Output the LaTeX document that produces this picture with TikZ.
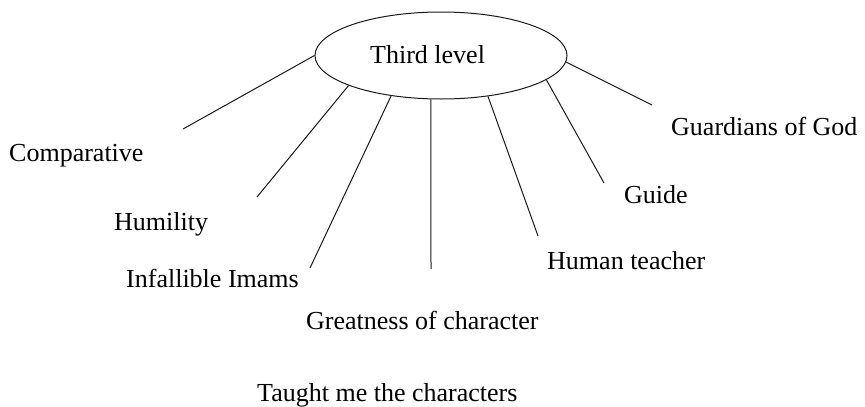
\documentclass[tikz,border=0pt]{standalone}
\usepackage{fontspec}
\setmainfont{Liberation Serif}
\usetikzlibrary{shapes.geometric}
\begin{document}
\begin{tikzpicture}[x=1pt,y=-1pt,
  lbl/.style={font=\fontsize{26}{30}\selectfont, inner sep=0pt, anchor=base west},
  conn/.style={line width=1pt, draw=black!90},
  hub/.style={draw=black!90, ellipse, line width=1pt, minimum width=252pt, minimum height=87pt, inner sep=0pt}]
\useasboundingbox (0,0) rectangle (865,407);
\node[hub] (e) at (441,55.5) {};
\node[lbl] (tl) at (370,63) {Third level};
\node[lbl] (guard) at (671,135) {Guardians of God};
\node[lbl] (comp) at (9,161) {Comparative};
\node[lbl] (guide) at (624,203) {Guide};
\node[lbl] (hum) at (114,230) {Humility};
\node[lbl] (human) at (547,269) {Human teacher};
\node[lbl] (imams) at (126,287) {Infallible Imams};
\node[lbl] (great) at (306,329) {Greatness of character};
\node[lbl] (taught) at (257,401) {Taught me the characters};
\coordinate (c1) at (183,129);
\coordinate (c2) at (257,197);
\coordinate (c3) at (310,268);
\coordinate (c4) at (431,269);
\coordinate (c5) at (538,236);
\coordinate (c6) at (604,183);
\coordinate (c7) at (652,105);
\draw[conn] (e.180) -- (c1);
\draw[conn] (e.198.9) -- (c2);
\draw[conn] (e.219.6) -- (c3);
\draw[conn] (e.257) -- (c4);
\draw[conn] (e.319.3) -- (c5);
\draw[conn] (e.347.3) -- (c6);
\draw[conn] (e.357) -- (c7);
\end{tikzpicture}
\end{document}
